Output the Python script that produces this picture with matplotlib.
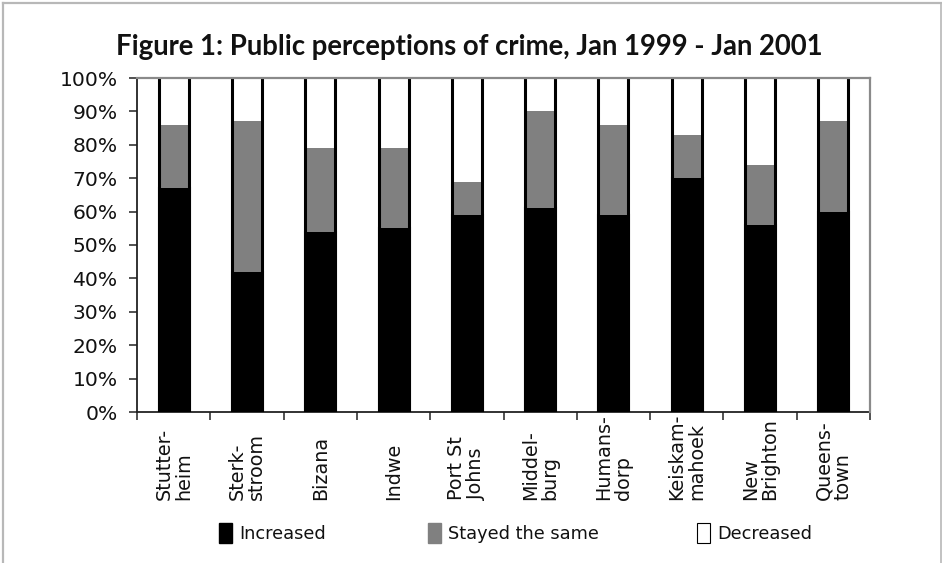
import matplotlib
matplotlib.use("Agg")
import matplotlib.pyplot as plt
import numpy as np
from matplotlib.patches import Patch
from matplotlib.lines import Line2D

# Survey responses (% of respondents) per town
towns = ["Stutter-\nheim", "Sterk-\nstroom", "Bizana", "Indwe", "Port St\nJohns",
         "Middel-\nburg", "Humans-\ndorp", "Keiskam-\nmahoek", "New\nBrighton", "Queens-\ntown"]
increased = [67, 42, 54, 55, 59, 61, 59, 70, 56, 60]
stayed_same = [19, 45, 25, 24, 10, 29, 27, 13, 18, 27]
decreased = [14, 13, 21, 21, 31, 10, 14, 17, 26, 13]
y_ticks = [0, 10, 20, 30, 40, 50, 60, 70, 80, 90, 100]
legend_labels = ["Increased", "Stayed the same", "Decreased"]

plt.rcParams["font.family"] = ["DejaVu Sans"]

W, H = 942, 563
fig = plt.figure(figsize=(W / 100, H / 100), dpi=100)
ax = fig.add_axes([137 / W, 1 - 412 / H, (870 - 137) / W, (412 - 78) / H])

x = np.arange(len(towns))
inc = np.array(increased)
same = np.array(stayed_same)
dec = np.array(decreased)
bw = 0.41

ax.bar(x, inc, bw, color="black", edgecolor="black", linewidth=2.2, zorder=3)
ax.bar(x, same, bw, bottom=inc, color="#808080", edgecolor="none", zorder=3)
ax.bar(x, dec, bw, bottom=inc + same, color="white", edgecolor="none", zorder=3)
# outline of each stacked column
total = inc + same + dec
ax.vlines(x - bw / 2, 0, total, color="black", linewidth=2.2, zorder=4)
ax.vlines(x + bw / 2, 0, total, color="black", linewidth=2.2, zorder=4)

ax.set_xlim(-0.5, len(towns) - 0.5)
ax.set_ylim(0, 100)
ax.set_yticks(y_ticks)
ax.set_yticklabels([f"{v}%" for v in y_ticks], fontsize=14.6, color="#111111")
ax.set_xticks(np.arange(len(towns) + 1) - 0.5)
ax.set_xticklabels([])
ax.tick_params(axis="y", direction="out", length=6, width=1.1, pad=8, color="#222222")
ax.tick_params(axis="x", direction="out", length=6, width=1.1, color="#222222")

for s in ("left", "bottom"):
    ax.spines[s].set_color("#222222")
    ax.spines[s].set_linewidth(1.3)
for s in ("top", "right"):
    ax.spines[s].set_color("#8a8a8a")
    ax.spines[s].set_linewidth(1.6)
    ax.spines[s].set_zorder(5)

label_y = (412 - 500) / (412 - 78)
for xi, name in zip(x, towns):
    ax.text(xi, label_y, name, transform=ax.get_xaxis_transform(), rotation=90,
            ha="center", va="bottom", multialignment="left", fontsize=13.8,
            color="#111111", linespacing=1.05)

fig.text(469.5 / W, 1 - 47 / H, "Figure 1: Public perceptions of crime, Jan 1999 - Jan 2001",
         ha="center", va="center", fontsize=19.8, fontweight="bold",
         family=["Lato", "DejaVu Sans"], color="#111111")

# legend entries
handles = [Patch(facecolor="black", edgecolor="black"),
           Patch(facecolor="#808080", edgecolor="#808080"),
           Patch(facecolor="white", edgecolor="black", linewidth=0.8)]
starts = [219, 428, 697]
for h, lab, sx in zip(handles, legend_labels, starts):
    lg = fig.legend([h], [lab], loc="center left", bbox_to_anchor=(sx / W, 1 - 533 / H),
                    frameon=False, fontsize=12.8, handlelength=0.75, handleheight=1.35,
                    handletextpad=0.4, borderpad=0, borderaxespad=0)
    for t in lg.get_texts():
        t.set_color("#111111")

# figure border (left, top, right)
bc = "#b8b8b8"
fig.add_artist(Line2D([3 / W, 3 / W], [0, 1 - 3 / H], color=bc, linewidth=1.6, transform=fig.transFigure))
fig.add_artist(Line2D([3 / W, 940.5 / W], [1 - 3 / H, 1 - 3 / H], color=bc, linewidth=1.6, transform=fig.transFigure))
fig.add_artist(Line2D([940.5 / W, 940.5 / W], [0, 1 - 3 / H], color=bc, linewidth=1.2, transform=fig.transFigure))

fig.savefig("out.png", dpi=100)
